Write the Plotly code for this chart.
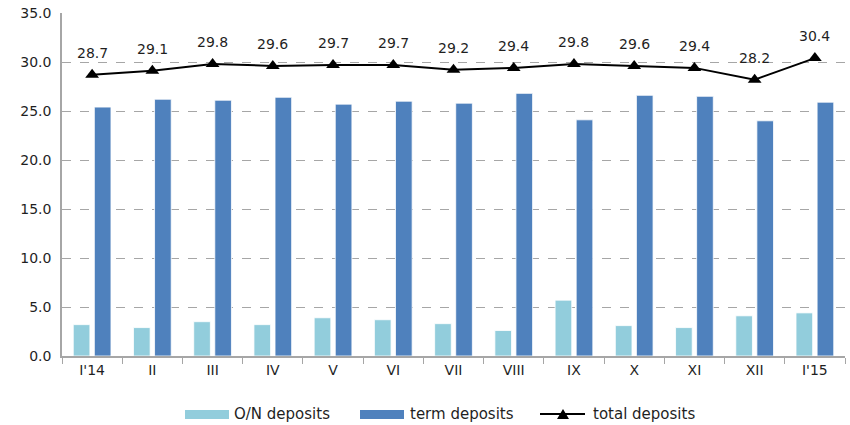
import plotly.graph_objects as go

# Monthly deposits, January 2014 - January 2015
months = ["I'14", "II", "III", "IV", "V", "VI", "VII", "VIII", "IX", "X", "XI", "XII", "I'15"]
on_deposits = [3.2, 2.9, 3.5, 3.2, 3.9, 3.7, 3.3, 2.6, 5.7, 3.1, 2.9, 4.1, 4.4]
term_deposits = [25.4, 26.2, 26.1, 26.4, 25.7, 26.0, 25.8, 26.8, 24.1, 26.6, 26.5, 24.0, 25.9]
total_deposits = [28.7, 29.1, 29.8, 29.6, 29.7, 29.7, 29.2, 29.4, 29.8, 29.6, 29.4, 28.2, 30.4]
y_ticks = [0, 5, 10, 15, 20, 25, 30, 35]

FONT = "DejaVu Sans"
TEXT = "#1f1f1f"
ON_COLOR = "#92CDDC"
TERM_COLOR = "#4F81BD"

W, H = 850, 425
ML, MR, MT, MB = 62, 5, 13, 69
PW, PH = W - ML - MR, H - MT - MB


def px(x):
    """page pixel x -> paper fraction"""
    return (x - ML) / PW


def py(y):
    """page pixel y (from top) -> paper fraction"""
    return (H - MB - y) / PH


fig = go.Figure()
fig.add_trace(go.Bar(
    x=months, y=on_deposits, name="O/N deposits",
    marker=dict(color=ON_COLOR, line=dict(color="#ffffff", width=0.8)),
))
fig.add_trace(go.Bar(
    x=months, y=term_deposits, name="term deposits",
    marker=dict(color=TERM_COLOR, line=dict(color="#ffffff", width=0.8)),
))
fig.add_trace(go.Scatter(
    x=months, y=total_deposits, name="total deposits",
    mode="lines+markers",
    line=dict(color="#000000", width=2),
    marker=dict(symbol="triangle-up", size=12, color="#000000"),
))

# value labels above the total line
for m, v in zip(months, total_deposits):
    fig.add_annotation(
        x=m, y=v, text=f"{v:.1f}", showarrow=False, yshift=22,
        font=dict(family=FONT, size=14, color=TEXT),
    )

# legend row under the axis: wide swatches like the spreadsheet style
LEG_Y = 414
shapes = [
    dict(type="rect", xref="paper", yref="paper",
         x0=px(185), x1=px(229), y0=py(419), y1=py(410),
         fillcolor=ON_COLOR, line=dict(width=0)),
    dict(type="rect", xref="paper", yref="paper",
         x0=px(360), x1=px(404), y0=py(419), y1=py(410),
         fillcolor=TERM_COLOR, line=dict(width=0)),
    dict(type="line", xref="paper", yref="paper",
         x0=px(540), x1=px(585), y0=py(LEG_Y), y1=py(LEG_Y),
         line=dict(color="#000000", width=2)),
    dict(type="path", xref="paper", yref="paper",
         path=(f"M{px(557)},{py(419)} L{px(569)},{py(419)} "
               f"L{px(563)},{py(409)} Z"),
         fillcolor="#000000", line=dict(width=0)),
]
legend_items = [(232, "O/N deposits"), (408, "term deposits"), (591, "total deposits")]
for x0, label in legend_items:
    fig.add_annotation(
        xref="paper", yref="paper", x=px(x0), y=py(LEG_Y),
        xanchor="left", yanchor="middle", text=label, showarrow=False,
        font=dict(family=FONT, size=15, color=TEXT),
    )

fig.update_layout(
    width=W, height=H,
    margin=dict(l=ML, r=MR, t=MT, b=MB, autoexpand=False),
    paper_bgcolor="#ffffff", plot_bgcolor="#ffffff",
    barmode="group", bargap=0.30, bargroupgap=0.21,
    font=dict(family=FONT, size=14, color=TEXT),
    showlegend=False,
    shapes=shapes,
)
fig.update_xaxes(
    range=[-0.5, len(months) - 0.5],
    showline=True, linecolor="#a6a6a6", linewidth=1.5,
    ticks="outside", tickson="boundaries", ticklen=6, tickcolor="#a6a6a6",
    showgrid=False, tickfont=dict(family=FONT, size=14, color=TEXT),
)
fig.update_yaxes(
    range=[0, 35], tickvals=y_ticks, ticktext=[f"{t:.1f}" for t in y_ticks],
    showline=True, linecolor="#a6a6a6", linewidth=1.5,
    showgrid=True, gridcolor="#a6a6a6", griddash="dash", gridwidth=1,
    zeroline=False, ticks="", ticklabelstandoff=6,
    tickfont=dict(family=FONT, size=14, color=TEXT),
)

fig.write_html("out.html")
